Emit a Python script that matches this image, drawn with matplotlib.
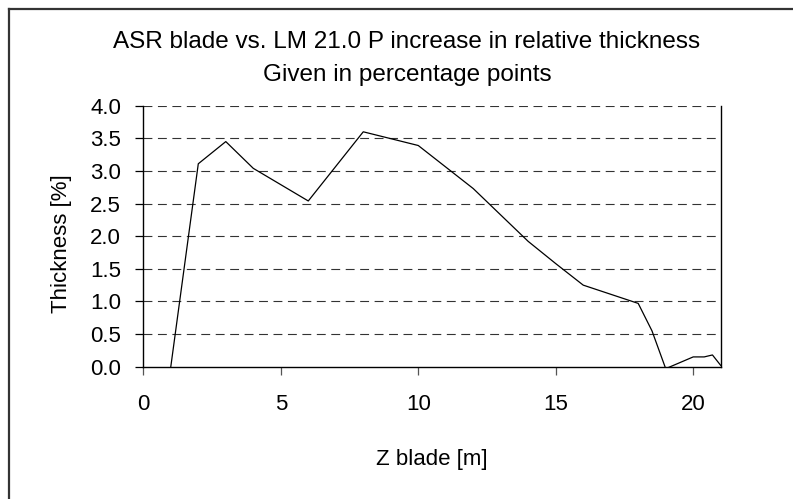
import matplotlib
matplotlib.use("Agg")
import matplotlib.pyplot as plt
from matplotlib.lines import Line2D

plt.rcParams['font.family'] = ['Liberation Sans', 'DejaVu Sans']

z_blade = [1, 2, 3, 4, 6, 8, 10, 12, 14, 15, 16, 18, 18.5, 19, 20, 20.4, 20.7, 21]
thickness = [0.0, 3.11, 3.45, 3.04, 2.54, 3.60, 3.39, 2.73, 1.92, 1.58, 1.25, 0.97, 0.55, -0.03, 0.15, 0.15, 0.18, 0.02]

x_ticks = [0, 5, 10, 15, 20]
y_ticks = [0.0, 0.5, 1.0, 1.5, 2.0, 2.5, 3.0, 3.5, 4.0]
title_lines = ["ASR blade vs. LM 21.0 P increase in relative thickness", "Given in percentage points"]
x_label = "Z blade [m]"
y_label = "Thickness [%]"

W, H = 793, 499
fig = plt.figure(figsize=(W / 100, H / 100), dpi=100)
fig.patch.set_facecolor('white')

ax = fig.add_axes([143.3 / W, 1 - 366.7 / H, (720.7 - 143.3) / W, (366.7 - 105.7) / H])
ax.plot(z_blade, thickness, color='black', lw=0.9, clip_on=True, zorder=3)
ax.set_xlim(0, 21)
ax.set_ylim(0, 4.0)
ax.set_xticks(x_ticks)
ax.set_yticks(y_ticks)
ax.set_xticklabels([str(t) for t in x_ticks], fontsize=16)
ax.set_yticklabels([f"{t:.1f}" for t in y_ticks], fontsize=16)

for yv in y_ticks[1:]:
    ax.axhline(yv, color='#333333', lw=0.8, linestyle=(0, (8, 5)), zorder=1)

for s in ['left', 'bottom', 'right']:
    ax.spines[s].set_color('black')
    ax.spines[s].set_linewidth(1.0)
ax.spines['top'].set_visible(False)

ax.tick_params(axis='y', direction='out', length=6, width=0.9, color='black', pad=10)
ax.tick_params(axis='x', direction='out', length=6, width=0.9, color='#555555', pad=14)

ax.set_xlabel(x_label, fontsize=16, labelpad=24)
ax.set_ylabel(y_label, fontsize=16)
ax.yaxis.set_label_coords(-0.123, 0.47)

fig.text(407 / W, 1 - 48 / H, title_lines[0], ha='center', va='baseline', fontsize=17.5)
fig.text(407 / W, 1 - 81 / H, title_lines[1], ha='center', va='baseline', fontsize=17.5)

# chart-area border (only left and top edges visible)
fig.add_artist(Line2D([9 / W, 9 / W], [0, 1 - 8.5 / H], transform=fig.transFigure, color='#333333', lw=1.6))
fig.add_artist(Line2D([9 / W, 1], [1 - 8.5 / H, 1 - 8.5 / H], transform=fig.transFigure, color='#333333', lw=1.6))

fig.savefig("out.png", dpi=100, facecolor='white')
